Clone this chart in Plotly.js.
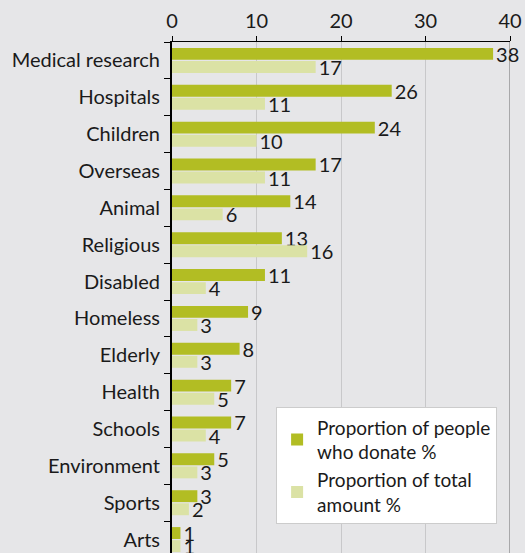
<!DOCTYPE html>
<html>
<head>
<meta charset="utf-8">
<script src="https://cdn.plot.ly/plotly-3.0.1.min.js"></script>
<style>
html,body{margin:0;padding:0;overflow:hidden;background:#e6e6e8;}
#chart{width:525px;height:560px;}
</style>
</head>
<body>
<div id="chart"></div>
<script>
const categories = ["Medical research","Hospitals","Children","Overseas","Animal","Religious","Disabled","Homeless","Elderly","Health","Schools","Environment","Sports","Arts"];
const peopleDonate = [38,26,24,17,14,13,11,9,8,7,7,5,3,1];
const totalAmount = [17,11,10,11,6,16,4,3,3,5,4,3,2,1];
const xTicks = [0,10,20,30,40];

const font = "Lato, Open Sans, sans-serif";
const fs = 20;
const traces = [
  {type:'bar', orientation:'h', name:'Proportion of people<br>who donate %', y:categories, x:peopleDonate,
   marker:{color:'#b2bd23'}, text:peopleDonate.map(String), textposition:'outside', cliponaxis:false,
   constraintext:'none', textfont:{size:fs,color:'#1a1a1a',family:font}, hoverinfo:'none'},
  {type:'bar', orientation:'h', name:'Proportion of total<br>amount %', y:categories, x:totalAmount,
   marker:{color:'#dbe2a5'}, text:totalAmount.map(String), textposition:'outside', cliponaxis:false,
   constraintext:'none', textfont:{size:fs,color:'#1a1a1a',family:font}, hoverinfo:'none'}
];
const layout = {
  width:525, height:560,
  margin:{l:172, r:15, t:42, b:2},
  paper_bgcolor:'#e6e6e8', plot_bgcolor:'#e6e6e8',
  font:{family:font, size:fs, color:'#1a1a1a'},
  barmode:'group', bargap:0.29, bargroupgap:0.09,
  showlegend:true,
  legend:{x:0.308, y:0.292, xanchor:'left', yanchor:'top', bgcolor:'#ffffff', bordercolor:'#cccccc', borderwidth:1,
          font:{size:19, color:'#1a1a1a'}, tracegroupgap:0, itemwidth:30},
  xaxis:{side:'top', range:[0,40], tickvals:xTicks, ticktext:xTicks.map(String), showgrid:true, gridcolor:'#c8c8ca', gridwidth:1,
         zeroline:false, showline:true, linecolor:'#000', linewidth:1.5, ticks:'outside', ticklen:5, tickcolor:'#000',
         tickfont:{size:fs}, fixedrange:true},
  yaxis:{autorange:'reversed', type:'category', showline:true, linecolor:'#000', linewidth:2, ticks:'outside', ticklen:6,
         tickcolor:'#000', tickson:'boundaries', showgrid:false, zeroline:false, tickfont:{size:fs}, ticklabelstandoff:6,
         fixedrange:true},
  shapes:[{type:'line', xref:'x', yref:'paper', x0:xTicks[xTicks.length-1], x1:xTicks[xTicks.length-1], y0:0, y1:1,
           line:{color:'#a8a8aa', width:2}, layer:'below'}]
};
Plotly.newPlot('chart', traces, layout, {displayModeBar:false, staticPlot:true});
</script>
</body>
</html>
